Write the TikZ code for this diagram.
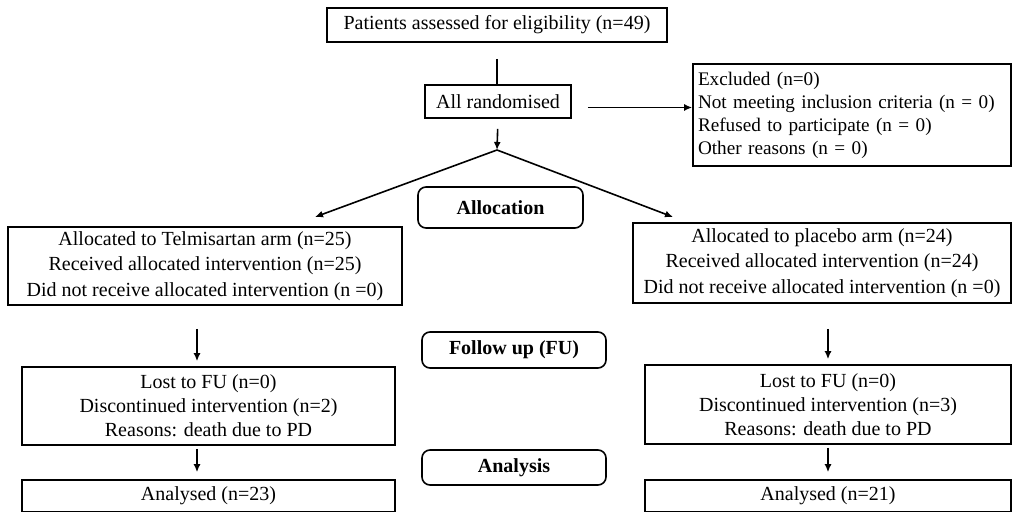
\documentclass[tikz,border=0pt]{standalone}
\usepackage{fontspec}
\setmainfont{Liberation Serif}
\usetikzlibrary{arrows.meta}

\begin{document}
\begin{tikzpicture}[x=0.5pt,y=-0.5pt]
	\tikzstyle{box} = [draw, line width=0.8pt, inner sep=2pt, align=center, font=\fontsize{10}{12.5}\selectfont]
	\tikzstyle{phase} = [draw, line width=0.8pt, rounded corners=4pt, inner sep=2pt, font=\bfseries\fontsize{10}{12}\selectfont]
	\tikzstyle{arr} = [line width=0.8pt, -{Latex[length=4pt,width=3.5pt]}]
	\useasboundingbox (0,0) rectangle (1013,512);

	\node [box, minimum width=170pt, minimum height=17pt] (elig) at (497,25) {Patients assessed for eligibility (n=49)};
	\node [box, minimum width=73pt, minimum height=16.5pt] (rand) at (498,101.5) {All randomised};
	\node [box, align=left, inner xsep=2.5pt, text width=154pt, minimum height=51pt, font=\fontsize{9.6}{11.5}\selectfont] (excl) at (852,115) {Excluded (n=0)\\Not meeting inclusion criteria (n = 0)\\Refused to participate (n = 0)\\Other reasons (n = 0)};

	\node [phase, minimum width=82.5pt, minimum height=20.5pt] (alloc) at (500.5,207.5) {Allocation};
	\node [phase, minimum width=92pt, minimum height=18pt] (fu) at (514,350) {Follow up (FU)};
	\node [phase, minimum width=92pt, minimum height=17.5pt] (anl) at (514,467.5) {Analysis};

	\node [box, minimum width=197pt, minimum height=39pt, font=\fontsize{10}{12.75}\selectfont] (armT) at (205,266) {Allocated to Telmisartan arm (n=25)\\Received allocated intervention (n=25)\\Did not receive allocated intervention (n =0)};
	\node [box, minimum width=189pt, minimum height=40pt, font=\fontsize{10}{12.75}\selectfont] (armP) at (822,263) {Allocated to placebo arm (n=24)\\Received allocated intervention (n=24)\\Did not receive allocated intervention (n =0)};

	\node [box, minimum width=186.5pt, minimum height=39pt, font=\fontsize{10}{12}\selectfont] (fuT) at (208.5,406) {Lost to FU (n=0)\\Discontinued intervention (n=2)\\Reasons: death due to PD};
	\node [box, minimum width=183pt, minimum height=39.5pt, font=\fontsize{10}{12}\selectfont] (fuP) at (828,404.5) {Lost to FU (n=0)\\Discontinued intervention (n=3)\\Reasons: death due to PD};

	\node [box, minimum width=186.5pt, minimum height=16pt] (anT) at (208.5,496) {Analysed (n=23)};
	\node [box, minimum width=183pt, minimum height=16pt] (anP) at (828,496) {Analysed (n=21)};

	\coordinate (split) at (497,150);
	\coordinate (tipT) at (315,217);
	\coordinate (tipP) at (673,217);

	\draw [line width=0.8pt, shorten <=8pt] (elig.south) -- (elig.south |- rand.north);
	\draw [arr, shorten <=8pt] ([yshift=-3pt]rand.east) -- ([yshift=-3pt]rand.east -| excl.west);
	\draw [arr, shorten <=5pt] (rand.south) -- (split);
	\draw [arr] (split) -- (tipT);
	\draw [arr] (split) -- (tipP);

	\draw [arr, shorten <=11.5pt, shorten >=2.5pt] ([xshift=-4pt]armT.south) -- ([xshift=-4pt]armT.south |- fuT.north);
	\draw [arr, shorten <=12.5pt, shorten >=2.5pt] (armP.south -| fuP.north) -- (fuP.north);
	\draw [arr, shorten <=1.5pt, shorten >=3.5pt] ([xshift=-5.75pt]fuT.south) -- ([xshift=-5.75pt]fuT.south |- anT.north);
	\draw [arr, shorten <=1.5pt, shorten >=3.5pt] (fuP.south) -- (fuP.south |- anP.north);
\end{tikzpicture}
\end{document}
